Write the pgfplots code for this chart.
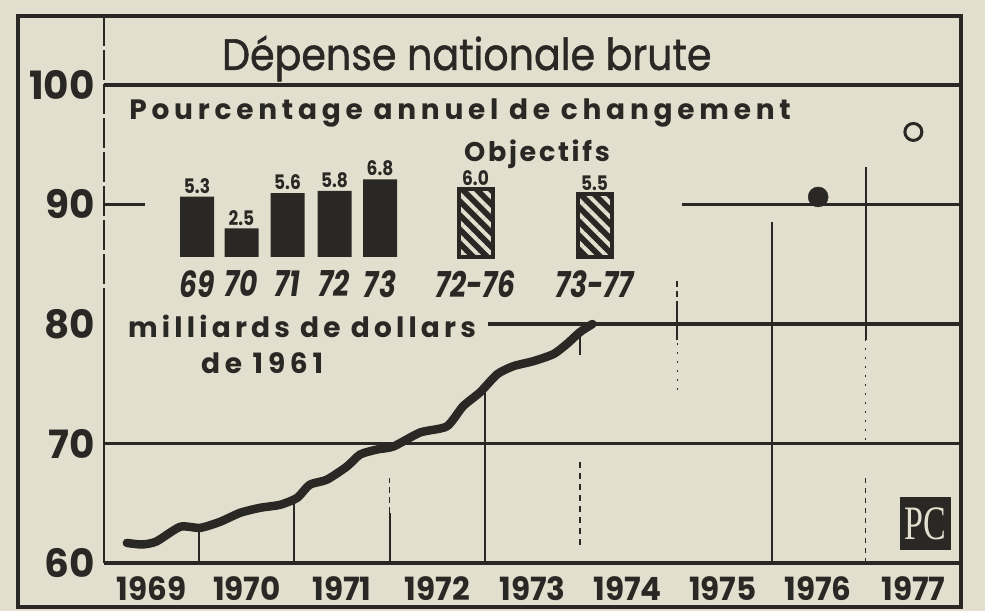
\documentclass[border=0pt]{standalone}
\usepackage{fontspec}
\setmainfont{Poppins}
\newfontfamily\pcfont{Liberation Serif}
\usepackage{pgfplots}
\usepackage{pgfplotstable}
\pgfplotsset{compat=1.18}
\usetikzlibrary{patterns.meta}

\definecolor{paper}{RGB}{227,223,207}
\definecolor{ink}{RGB}{42,40,36}

\pgfplotstableread{
x y
1969.24 61.68
1969.40 61.55
1969.55 61.80
1969.80 63.03
1970.01 62.94
1970.22 63.45
1970.43 64.20
1970.64 64.62
1970.85 64.87
1971.03 65.46
1971.16 66.55
1971.34 66.97
1971.55 68.07
1971.69 69.08
1971.87 69.50
1972.04 69.75
1972.32 70.92
1972.60 71.43
1972.77 73.11
1972.95 74.29
1973.13 75.80
1973.30 76.47
1973.51 76.89
1973.72 77.48
1973.86 78.32
1974.00 79.33
1974.13 80.00
}\gnp

\pgfplotstableread{
x y
197 5.3
241.5 2.5
287.5 5.6
334.5 5.8
380 6.8
}\actual

\pgfplotstableread{
x y
475.5 6.0
594.5 5.5
}\targets

\begin{document}
\begin{tikzpicture}[x=1pt,y=1pt]
\path[use as bounding box, fill=paper] (-104pt,-48pt) rectangle (881pt,563pt);
\begin{axis}[
  at={(0pt,0pt)}, anchor=south west,
  scale only axis, width=857pt, height=547pt,
  xmin=1969, xmax=1978, ymin=60, ymax=105.77,
  axis line style={draw=none},
  tick style={draw=none},
  xtick={1969.5,1970.5,1971.5,1972.5,1973.5,1974.5,1975.5,1976.5,1977.5},
  xticklabels={1969,1970,1971,1972,1973,1974,1975,1976,1977},
  ytick={60,70,80,90,100},
  yticklabels={60,70,80,90,100},
  xticklabel style={font=\bfseries\fontsize{32}{32}\selectfont, text=ink, anchor=north, inner sep=0pt, yshift=-13pt, xscale=0.97},
  yticklabel style={font=\bfseries\fontsize{39}{39}\selectfont, text=ink, anchor=east, inner sep=0pt, xshift=-9pt},
  clip=false,
]
\coordinate (ins) at (axis cs:1969,85.607);
% frame
\draw[ink, line width=4.5pt] (axis cs:1968.097,56.318) rectangle (axis cs:1978,105.77);
% left inner line
\draw[ink, line width=2pt] (axis cs:1969,60) -- (axis cs:1969,80.5);
\draw[ink, line width=2pt, dash pattern=on 30pt off 4pt] (axis cs:1969,80.5) -- (axis cs:1969,105.77);
% horizontal grid
\draw[ink, line width=3.5pt] (axis cs:1969,100) -- (axis cs:1978,100);
\draw[ink, line width=3.5pt] (axis cs:1969,90) -- (axis cs:1969.43,90);
\draw[ink, line width=3.5pt] (axis cs:1975.07,90) -- (axis cs:1978,90);
\draw[ink, line width=3.5pt] (axis cs:1973.03,80) -- (axis cs:1978,80);
\draw[ink, line width=3.5pt] (axis cs:1969,70) -- (axis cs:1978,70);
\draw[ink, line width=4pt] (axis cs:1969,60) -- (axis cs:1978,60);
% vertical grid
\draw[ink, line width=2pt] (axis cs:1970,60) -- (axis cs:1970,62.6);
\draw[ink, line width=2pt] (axis cs:1971,60) -- (axis cs:1971,65.0);
\draw[ink, line width=2pt] (axis cs:1972,60) -- (axis cs:1972,64.2);
\draw[ink, line width=1.6pt, dash pattern=on 6pt off 4pt] (axis cs:1972,64.2) -- (axis cs:1972,67.1);
\draw[ink, line width=2pt] (axis cs:1973,60) -- (axis cs:1973,74.2);
\draw[ink, line width=1.6pt, dash pattern=on 6pt off 5pt] (axis cs:1974,61.5) -- (axis cs:1974,68.5);
\draw[ink, line width=2pt] (axis cs:1974,77.4) -- (axis cs:1974,79.5);
\draw[ink, line width=1.6pt, dash pattern=on 6pt off 4pt] (axis cs:1975.02,81.4) -- (axis cs:1975.02,83.9);
\draw[ink, line width=2pt] (axis cs:1975.02,78.7) -- (axis cs:1975.02,81.4);
\draw[ink, line width=1.4pt, dash pattern=on 2pt off 7pt] (axis cs:1975.02,74.5) -- (axis cs:1975.02,78.7);
\draw[ink, line width=2pt] (axis cs:1976.02,60) -- (axis cs:1976.02,88.5);
\draw[ink, line width=2pt] (axis cs:1977,78.7) -- (axis cs:1977,93.1);
\draw[ink, line width=1.4pt, dash pattern=on 2pt off 7pt] (axis cs:1977,70.3) -- (axis cs:1977,78.7);
\draw[ink, line width=1.4pt, dash pattern=on 5pt off 5pt] (axis cs:1977,60) -- (axis cs:1977,67.5);
% data
\addplot[ink, line width=8.5pt, line cap=round, line join=round, smooth, tension=0.4] table {\gnp};
\addplot[only marks, mark=*, mark size=10pt, ink] coordinates {(1976.5,90.63)};
\addplot[only marks, mark=o, mark size=8.5pt, ink, mark options={line width=3pt}] coordinates {(1977.5,96.07)};
% texts
\node[anchor=base, text=ink, font=\fontsize{44}{44}\selectfont, xscale=0.9] at (axis cs:1972.81,101.255) {\addfontfeatures{FakeBold=1.2}Dépense nationale brute};
\node[anchor=base, text=ink, font=\bfseries\fontsize{28}{28}\selectfont] at (axis cs:1972.74,97.07) {\addfontfeatures{LetterSpace=17}Pourcentage annuel de changement};
\node[anchor=base, text=ink, font=\bfseries\fontsize{27}{27}\selectfont] at (axis cs:1973.547,93.56) {\addfontfeatures{LetterSpace=10}Objectifs};
\node[anchor=base, text=ink, font=\bfseries\fontsize{28}{28}\selectfont] at (axis cs:1971.08,78.83) {\addfontfeatures{LetterSpace=15}milliards de dollars};
\node[anchor=base, text=ink, font=\bfseries\fontsize{28}{28}\selectfont] at (axis cs:1970.66,75.82) {\addfontfeatures{LetterSpace=17}de 1961};
\node[fill=ink, text=paper, minimum width=51pt, minimum height=53pt, inner sep=0pt, font=\pcfont\fontsize{40}{40}\selectfont] at (axis cs:1977.627,63.31) {\scalebox{0.85}[1.2]{PC}};
\end{axis}

\begin{axis}[
  at={(ins)}, anchor=south west,
  scale only axis, width=857pt, height=91.2pt,
  xmin=104, xmax=961, ymin=0, ymax=8,
  axis line style={draw=none},
  tick style={draw=none},
  ytick=\empty,
  xtick={197,241.5,287.5,334.5,380,475.5,594.5},
  xticklabels={69,70,71,72,73,72-76,73-77},
  xticklabel style={font=\bfseries\itshape\fontsize{36}{36}\selectfont, text=ink, anchor=north, inner sep=0pt, yshift=-9pt, xscale=0.78},
  ybar, bar width=34pt, bar shift=0pt,
  nodes near coords style={font=\bfseries\fontsize{20}{20}\selectfont, text=ink, inner sep=0pt, anchor=south, yshift=3pt, xscale=0.85,
    /pgf/number format/.cd, fixed, fixed zerofill, precision=1, assume math mode=true},
  clip=false,
]
\addplot[fill=ink, draw=none, nodes near coords] table {\actual};
\addplot[fill=ink, draw=none, nodes near coords] table {\targets};
\addplot[draw=ink, line width=4pt, pattern={Lines[angle=-45,distance=10pt,line width=4pt]}, pattern color=paper] table {\targets};
\end{axis}
\end{tikzpicture}
\end{document}
